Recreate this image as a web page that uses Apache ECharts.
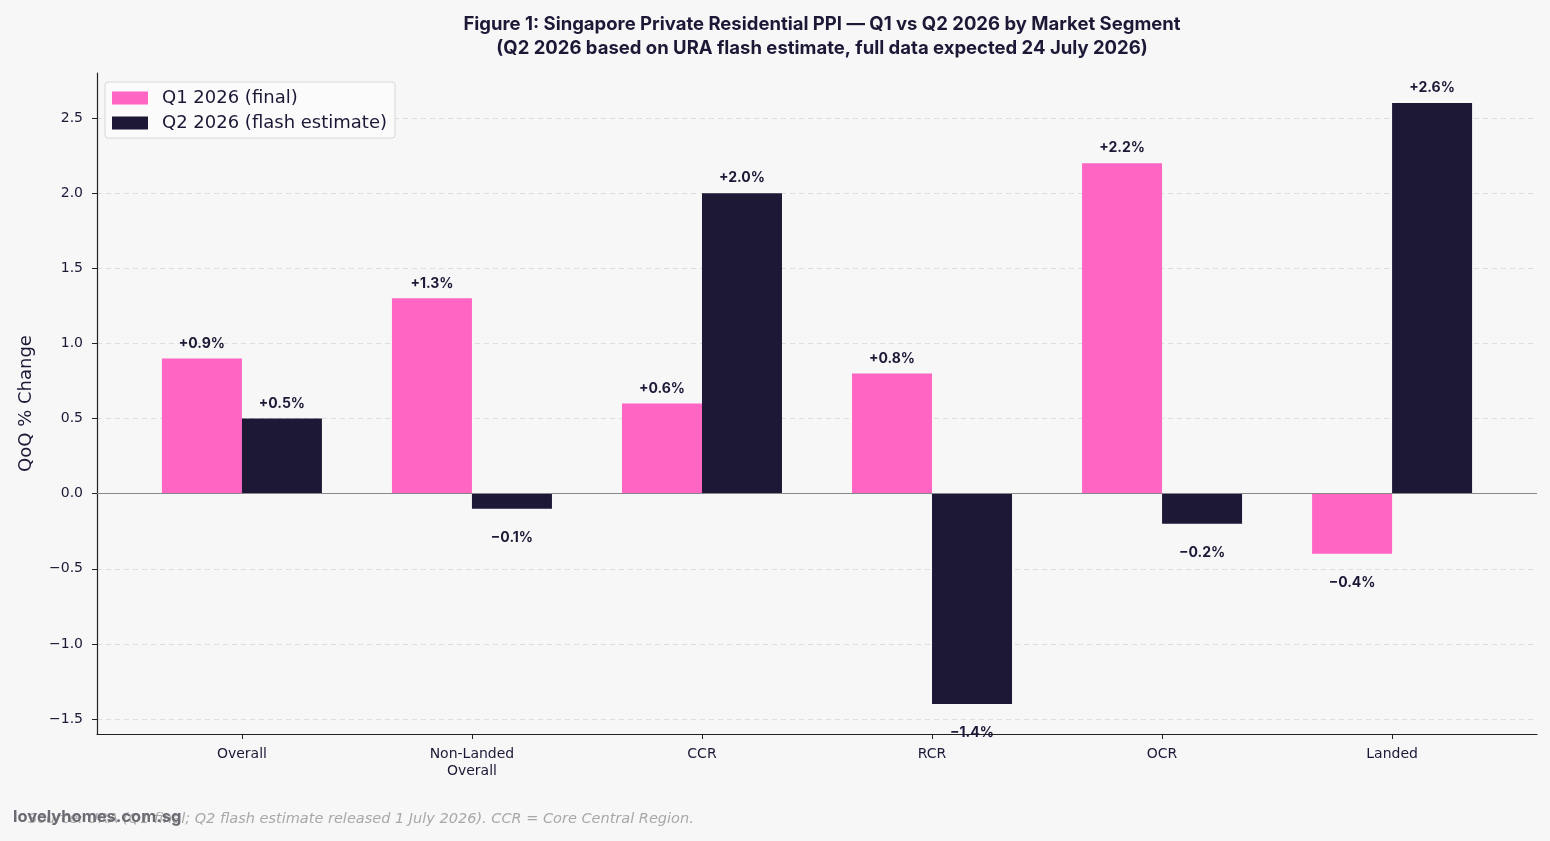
<!doctype html>
<html lang="en">
<head>
    <meta charset="UTF-8">
    <title>Singapore Private Residential PPI</title>
    <script type="text/javascript" src="https://cdn.jsdelivr.net/npm/echarts@6/dist/echarts.min.js"></script>
    <style>
        html, body { margin: 0; padding: 0; background: #f7f7f7; }
        #main { width: 1550px; height: 841px; }
    </style>
</head>
<body>
<div id="main"></div>
<script type="text/javascript">
    // data
    var segments = ['Overall', 'Non-Landed\nOverall', 'CCR', 'RCR', 'OCR', 'Landed'];
    var q1Final = [0.9, 1.3, 0.6, 0.8, 2.2, -0.4];
    var q2Flash = [0.5, -0.1, 2.0, -1.4, -0.2, 2.6];
    var yTicks = [-1.5, -1.0, -0.5, 0.0, 0.5, 1.0, 1.5, 2.0, 2.5];

    var ink = '#1c1836';
    var pink = '#ff66c4';

    function signed(v) {
        return (v >= 0 ? '+' : '\u2212') + Math.abs(v).toFixed(1) + '%';
    }

    // bars sit on a value x axis so the category spacing can match the figure
    function toItems(vals) {
        return vals.map(function (v, i) {
            return {
                value: [i, v],
                label: v >= 0 ? {position: 'top', distance: 8} : {position: 'bottom', distance: 22}
            };
        });
    }

    var barLabel = {
        show: true,
        color: ink,
        fontFamily: 'Inter',
        fontWeight: 'bold',
        fontSize: 14,
        formatter: function (p) { return signed(p.value[1]); }
    };

    var myChart = echarts.init(document.getElementById('main'));
    myChart.setOption({
        backgroundColor: '#f7f7f7',
        animation: false,
        title: {
            text: 'Figure 1: Singapore Private Residential PPI \u2014 Q1 vs Q2 2026 by Market Segment\n(Q2 2026 based on URA flash estimate, full data expected 24 July 2026)',
            left: 817,
            top: 7,
            textAlign: 'center',
            textStyle: {
                color: ink,
                fontFamily: 'Inter',
                fontWeight: 'bold',
                fontSize: 18.5,
                lineHeight: 24
            }
        },
        graphic: [
            {
                type: 'text',
                left: 28,
                top: 812,
                style: {
                    text: 'Source: URA (Q1 final; Q2 flash estimate released 1 July 2026). CCR = Core Central Region.',
                    fill: '#a8a8a8',
                    font: 'italic 14.5px "DejaVu Sans"'
                }
            },
            {
                type: 'text',
                left: 13,
                top: 809,
                style: {
                    text: 'lovelyhomes.com.sg',
                    fill: '#6b6b73',
                    font: 'bold 16.5px "Inter"'
                }
            }
        ],
        legend: {
            orient: 'vertical',
            left: 105,
            top: 82,
            padding: [7, 8, 6, 7],
            icon: 'rect',
            itemWidth: 36,
            itemHeight: 13,
            itemGap: 7,
            backgroundColor: '#fbfbfb',
            borderColor: '#d8d8d8',
            borderWidth: 1,
            borderRadius: 3,
            textStyle: {color: ink, fontFamily: 'DejaVu Sans', fontSize: 18, padding: [0, 0, 0, 9]},
            data: ['Q1 2026 (final)', 'Q2 2026 (flash estimate)']
        },
        grid: {left: 97, right: 13, top: 73, bottom: 107},
        xAxis: {
            type: 'value',
            min: -0.63,
            max: 5.63,
            splitLine: {show: false},
            axisLine: {onZero: false, lineStyle: {color: '#222', width: 1.2}},
            axisTick: {show: true, customValues: [0, 1, 2, 3, 4, 5], length: 5, lineStyle: {color: '#222'}},
            axisLabel: {
                customValues: [0, 1, 2, 3, 4, 5],
                color: ink,
                fontFamily: 'DejaVu Sans',
                fontSize: 14,
                lineHeight: 17,
                margin: 12,
                formatter: function (v) { return segments[Math.round(v)]; }
            }
        },
        yAxis: {
            type: 'value',
            min: -1.6,
            max: 2.8,
            name: 'QoQ % Change',
            nameLocation: 'middle',
            nameGap: 62,
            nameTextStyle: {color: ink, fontFamily: 'DejaVu Sans', fontSize: 18},
            axisLine: {show: true, onZero: false, lineStyle: {color: '#222', width: 1.2}},
            axisTick: {show: true, customValues: yTicks, length: 5, lineStyle: {color: '#222'}},
            axisLabel: {
                customValues: yTicks,
                color: ink,
                fontFamily: 'DejaVu Sans',
                fontSize: 14,
                margin: 14,
                formatter: function (v) { return (v < 0 ? '\u2212' : '') + Math.abs(v).toFixed(1); }
            },
            splitLine: {show: true, lineStyle: {color: '#dedede', type: [5, 4], width: 1}}
        },
        series: [
            {
                name: 'Q1 2026 (final)',
                type: 'bar',
                barWidth: 80,
                barGap: '0%',
                itemStyle: {color: pink},
                label: barLabel,
                data: toItems(q1Final),
                markLine: {
                    silent: true,
                    symbol: 'none',
                    label: {show: false},
                    lineStyle: {color: '#888', type: 'solid', width: 1.2},
                    data: [{yAxis: 0}]
                }
            },
            {
                name: 'Q2 2026 (flash estimate)',
                type: 'bar',
                barWidth: 80,
                barGap: '0%',
                itemStyle: {color: ink},
                label: barLabel,
                data: toItems(q2Flash)
            }
        ]
    });
</script>
</body>
</html>
